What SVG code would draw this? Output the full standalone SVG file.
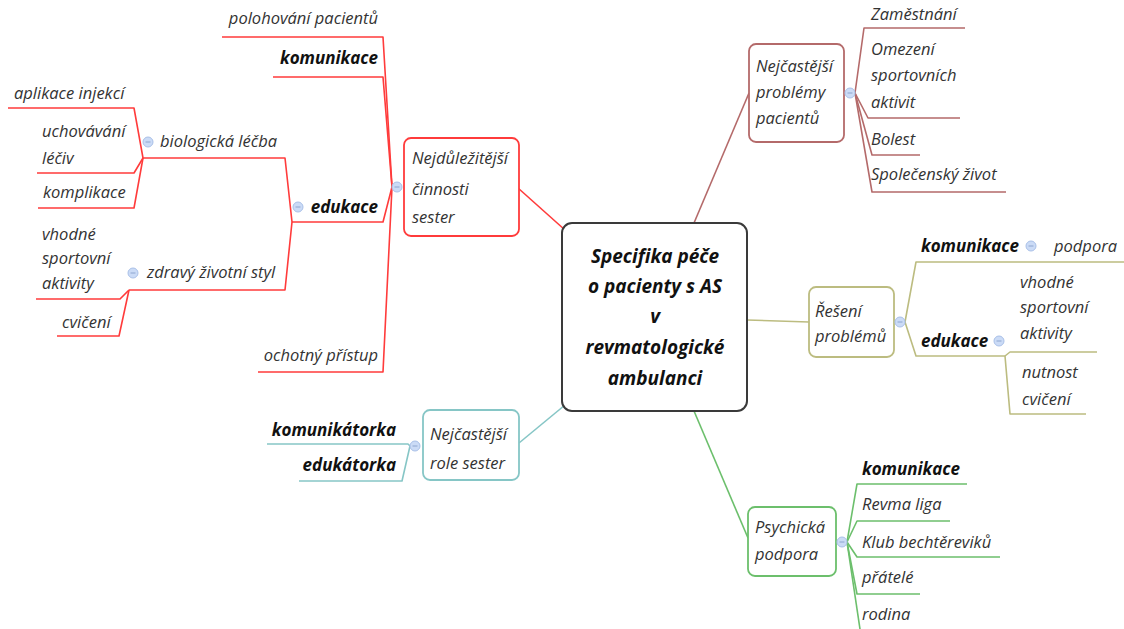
<svg xmlns="http://www.w3.org/2000/svg" width="1124" height="629" viewBox="0 0 1124 629">
<style>
.t{font-family:"Open Sans","Liberation Sans",sans-serif;font-style:italic;font-size:16.5px;fill:#333}
.b{font-weight:bold;font-size:17px;fill:#111}
.e{text-anchor:end}
.c{font-family:"Open Sans","Liberation Sans",sans-serif;font-style:italic;font-weight:bold;font-size:19px;fill:#111;text-anchor:middle}
.ln{fill:none;stroke-width:1.6;stroke-linejoin:round}
.red{stroke:#ff3b3b}
.brn{stroke:#b46a6a}
.olv{stroke:#bcbc80}
.grn{stroke:#6cbf6c}
.tea{stroke:#86c6c6}
.box{fill:#fff;stroke-width:1.8}
.col{fill:#cbdbf6;stroke:#a9c0e8;stroke-width:1}
.colm{stroke:#8ea6d0;stroke-width:1}
</style>
<defs>
<g id="cl"><circle class="col" r="5"/><line class="colm" x1="-2.5" y1="0" x2="2.5" y2="0"/></g>
</defs>
<rect width="1124" height="629" fill="#fff"/>
<g id="connectors">
<path class="ln red" d="M518,188 L565,230"/>
<path class="ln tea" d="M519,443 L565,405"/>
<path class="ln brn" d="M694,223 L749,93"/>
<path class="ln olv" d="M747,320 L809,322"/>
<path class="ln grn" d="M694,411 L748,538"/>
<path class="ln red" d="M392,187 L383,37 L222,37"/>
<path class="ln red" d="M392,187 L383,77 L273,77"/>
<path class="ln red" d="M392,187 L383,222 L292,222"/>
<path class="ln red" d="M392,187 L383,372 L258,372"/>
<path class="ln red" d="M292,222 L285,158 L143,158"/>
<path class="ln red" d="M292,222 L285,290 L129,290"/>
<path class="ln red" d="M143,158 L134,108 L8,108"/>
<path class="ln red" d="M143,158 L134,173 L37,173"/>
<path class="ln red" d="M143,158 L134,208 L38,208"/>
<path class="ln red" d="M129,290 L120,299 L36,299"/>
<path class="ln red" d="M129,290 L119,336 L57,336"/>
<path class="ln tea" d="M410,446 L408,444 L267,444"/>
<path class="ln tea" d="M410,446 L402,481 L299,481"/>
<path class="ln brn" d="M855,93 L864,28 L965,28"/>
<path class="ln brn" d="M855,93 L868,118 L960,118"/>
<path class="ln brn" d="M855,93 L872,155 L920,155"/>
<path class="ln brn" d="M855,93 L872,192 L1006,192"/>
<path class="ln olv" d="M905,322 L916,262 L1124,262"/>
<path class="ln olv" d="M905,322 L916,356 L1005,356"/>
<path class="ln olv" d="M1005,356 L1010,352 L1097,352"/>
<path class="ln olv" d="M1005,356 L1010,414 L1086,414"/>
<path class="ln grn" d="M847,542 L857,484 L967,484"/>
<path class="ln grn" d="M847,542 L857,521 L950,521"/>
<path class="ln grn" d="M847,542 L857,557 L1000,557"/>
<path class="ln grn" d="M847,542 L857,594 L920,594"/>
<path class="ln grn" d="M847,542 L860,629"/>
</g>
<g id="central">
<rect x="562" y="223" width="185" height="188" rx="10" fill="#fff" stroke="#3a3a3a" stroke-width="2"/>
<text class="c" x="655" y="263">Specifika péče</text>
<text class="c" x="655" y="293">o pacienty s AS</text>
<text class="c" x="655" y="323">v</text>
<text class="c" x="655" y="354">revmatologické</text>
<text class="c" x="655" y="385">ambulanci</text>
</g>
<g id="n-cinnosti">
<rect class="box red" x="404" y="138" width="115" height="98" rx="7"/>
<text class="t" x="412" y="164">Nejdůležitější</text>
<text class="t" x="412" y="195">činnosti</text>
<text class="t" x="412" y="223">sester</text>
<use href="#cl" x="397" y="187"/>
</g>
<g id="n-polohovani"><text class="t e" x="378" y="24">polohování pacientů</text></g>
<g id="n-komunikace1"><text class="t b e" x="378" y="64">komunikace</text></g>
<g id="n-edukace1"><text class="t b e" x="378" y="213">edukace</text><use href="#cl" x="298" y="207"/></g>
<g id="n-ochotny"><text class="t e" x="378" y="361">ochotný přístup</text></g>
<g id="n-biologicka"><text class="t" x="160" y="147">biologická léčba</text><use href="#cl" x="148" y="142"/></g>
<g id="n-zdravy"><text class="t" x="147" y="278">zdravý životní styl</text><use href="#cl" x="133" y="273"/></g>
<g id="n-aplikace"><text class="t" x="14" y="99">aplikace injekcí</text></g>
<g id="n-uchovavani"><text class="t" x="42" y="137">uchovávání</text><text class="t" x="42" y="164">léčiv</text></g>
<g id="n-komplikace"><text class="t" x="43" y="198">komplikace</text></g>
<g id="n-vhodne1"><text class="t" x="42" y="240">vhodné</text><text class="t" x="42" y="264">sportovní</text><text class="t" x="42" y="289">aktivity</text></g>
<g id="n-cviceni"><text class="t" x="62" y="328">cvičení</text></g>
<g id="n-role">
<rect class="box tea" x="423" y="410" width="96" height="70" rx="7"/>
<text class="t" x="430" y="440">Nejčastější</text>
<text class="t" x="430" y="469">role sester</text>
<use href="#cl" x="415" y="446"/>
</g>
<g id="n-komunikatorka"><text class="t b e" x="396" y="436">komunikátorka</text></g>
<g id="n-edukatorka"><text class="t b e" x="396" y="471">edukátorka</text></g>
<g id="n-problemy">
<rect class="box brn" x="749" y="44" width="95" height="98" rx="7"/>
<text class="t" x="756" y="72">Nejčastější</text>
<text class="t" x="756" y="98">problémy</text>
<text class="t" x="756" y="124">pacientů</text>
<use href="#cl" x="850" y="93"/>
</g>
<g id="n-zamestnani"><text class="t" x="871" y="20">Zaměstnání</text></g>
<g id="n-omezeni"><text class="t" x="871" y="55">Omezení</text><text class="t" x="871" y="81">sportovních</text><text class="t" x="871" y="108">aktivit</text></g>
<g id="n-bolest"><text class="t" x="871" y="145">Bolest</text></g>
<g id="n-spolecensky"><text class="t" x="871" y="180">Společenský život</text></g>
<g id="n-reseni">
<rect class="box olv" x="809" y="287" width="85" height="70" rx="7"/>
<text class="t" x="815" y="317">Řešení</text>
<text class="t" x="815" y="342">problémů</text>
<use href="#cl" x="900" y="322"/>
</g>
<g id="n-komunikace2"><text class="t b" x="921" y="252">komunikace</text><use href="#cl" x="1031" y="246"/></g>
<g id="n-podpora"><text class="t" x="1054" y="252">podpora</text></g>
<g id="n-edukace2"><text class="t b" x="921" y="347">edukace</text><use href="#cl" x="999" y="341"/></g>
<g id="n-vhodne2"><text class="t" x="1020" y="288">vhodné</text><text class="t" x="1020" y="313">sportovní</text><text class="t" x="1020" y="339">aktivity</text></g>
<g id="n-nutnost"><text class="t" x="1022" y="378">nutnost</text><text class="t" x="1022" y="405">cvičení</text></g>
<g id="n-psychicka">
<rect class="box grn" x="748" y="507" width="88" height="69" rx="7"/>
<text class="t" x="755" y="533">Psychická</text>
<text class="t" x="755" y="560">podpora</text>
<use href="#cl" x="842" y="542"/>
</g>
<g id="n-komunikace3"><text class="t b" x="862" y="475">komunikace</text></g>
<g id="n-revma"><text class="t" x="862" y="510">Revma liga</text></g>
<g id="n-klub"><text class="t" x="862" y="548">Klub bechtěreviků</text></g>
<g id="n-pratele"><text class="t" x="862" y="583">přátelé</text></g>
<g id="n-rodina"><text class="t" x="862" y="620">rodina</text></g>
</svg>
